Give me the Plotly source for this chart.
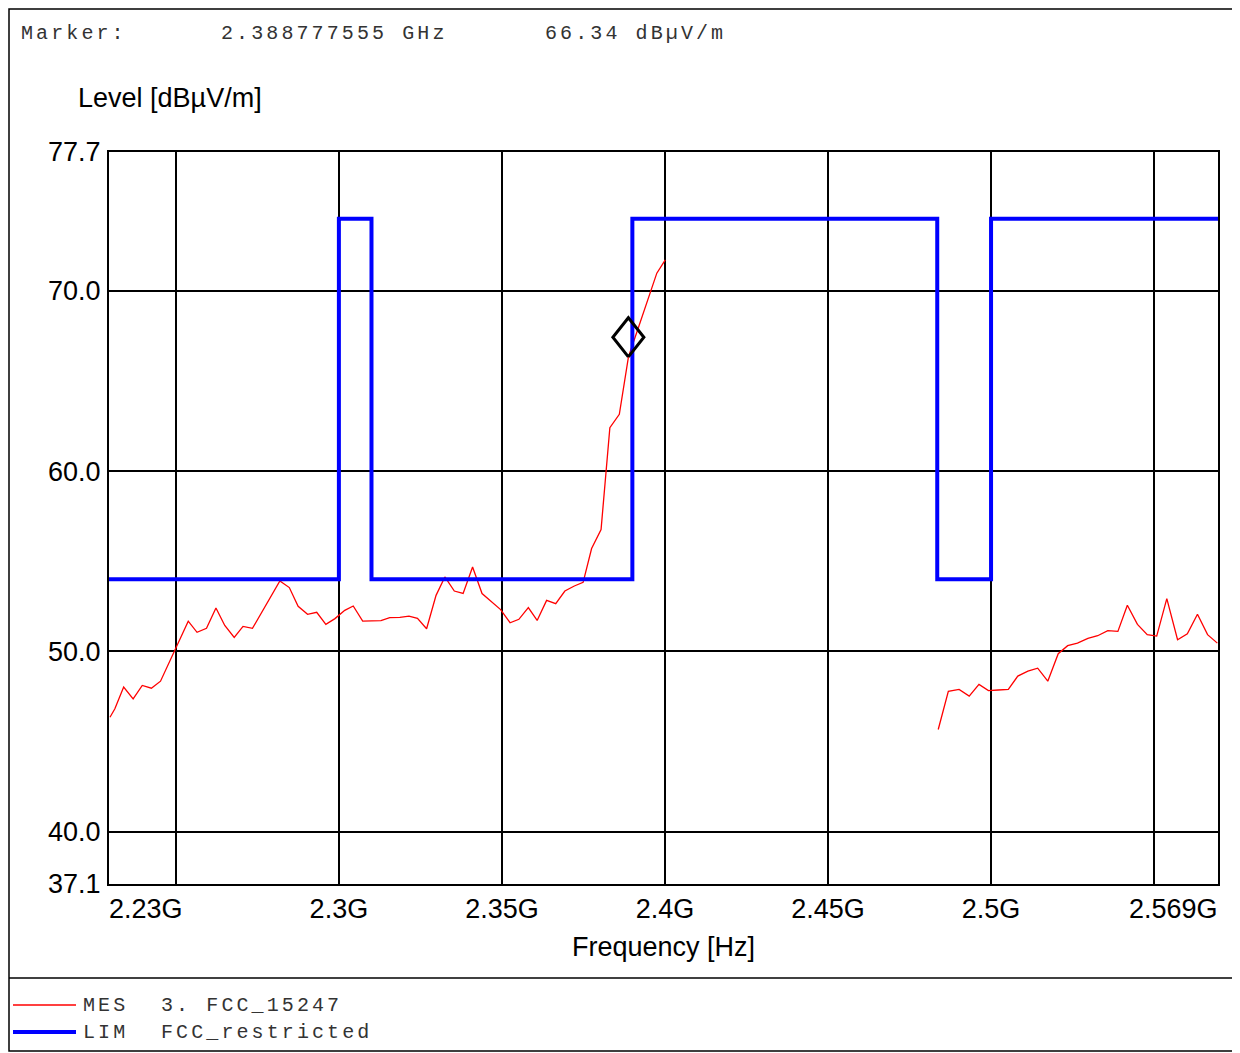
import plotly.graph_objects as go

# sweep / axis data
FREQ_START = 2.2295
FREQ_STOP = 2.5696
LEVEL_MIN = 37.1
LEVEL_MAX = 77.7

x_tickvals = [2.25, 2.3, 2.35, 2.4, 2.45, 2.5, 2.55]
x_ticktext = ['', '2.3G', '2.35G', '2.4G', '2.45G', '2.5G', '']
x_edge_labels = ['2.23G', '2.569G']
y_tickvals = [37.1, 40.0, 50.0, 60.0, 70.0, 77.7]
y_ticktext = ['37.1', '40.0', '50.0', '60.0', '70.0', '77.7']

# MES 3. FCC_15247 (two sweeps, gap over 2.4 - 2.4835 GHz)
mes_freq_1 = [2.2298, 2.2313, 2.2340, 2.2369, 2.2397, 2.2425, 2.2453, 2.2482, 2.2509, 2.2538,
              2.2565, 2.2594, 2.2623, 2.2650, 2.2679, 2.2706, 2.2735, 2.2763, 2.2791, 2.2819,
              2.2848, 2.2875, 2.2904, 2.2932, 2.2960, 2.2988, 2.3018, 2.3044, 2.3073, 2.3101,
              2.3129, 2.3156, 2.3187, 2.3215, 2.3241, 2.3269, 2.3298, 2.3325, 2.3354, 2.3381,
              2.3410, 2.3439, 2.3468, 2.3496, 2.3525, 2.3552, 2.3581, 2.3608, 2.3637, 2.3665,
              2.3693, 2.3722, 2.3749, 2.3775, 2.3804, 2.3831, 2.3860, 2.3888, 2.3916, 2.3944,
              2.3975, 2.4001]
mes_level_1 = [46.35, 46.82, 48.02, 47.37, 48.11, 47.96, 48.35, 49.46, 50.57, 51.68,
               51.06, 51.28, 52.41, 51.44, 50.78, 51.39, 51.28, 52.16, 53.03, 53.91,
               53.54, 52.50, 52.06, 52.17, 51.50, 51.82, 52.28, 52.52, 51.68, 51.69,
               51.71, 51.87, 51.89, 51.96, 51.83, 51.26, 53.11, 54.13, 53.35, 53.22,
               54.68, 53.21, 52.78, 52.32, 51.59, 51.78, 52.43, 51.72, 52.83, 52.65,
               53.35, 53.63, 53.83, 55.71, 56.76, 62.41, 63.15, 66.34, 67.83, 69.32,
               70.98, 71.72]
mes_freq_2 = [2.4838, 2.4869, 2.4902, 2.4933, 2.4963, 2.4992, 2.5022, 2.5053, 2.5082, 2.5113,
              2.5143, 2.5174, 2.5206, 2.5235, 2.5265, 2.5297, 2.5327, 2.5358, 2.5389, 2.5418,
              2.5449, 2.5479, 2.5508, 2.5539, 2.5572, 2.5602, 2.5633, 2.5664, 2.5694]
mes_level_2 = [45.67, 47.79, 47.89, 47.52, 48.17, 47.83, 47.86, 47.89, 48.63, 48.91,
               49.07, 48.35, 49.87, 50.32, 50.46, 50.72, 50.87, 51.15, 51.11, 52.56,
               51.50, 50.93, 50.85, 52.93, 50.65, 50.98, 52.06, 50.93, 50.46]

# LIM FCC_restricted (step line, 'hv')
lim_freq = [2.2295, 2.3, 2.31, 2.39, 2.4835, 2.5, 2.5696]
lim_level = [54, 74, 54, 74, 54, 74, 74]

marker_freq = 2.388777555
marker_level = 66.34

# page has an 8px body margin, so the figure is drawn 8px smaller
OFF = 8
W, H = 1240 - OFF, 1053 - OFF
# plot area in page pixels
L, R, T, B = 109, 1218, 152, 884


def px_x(p):
    return (p - L) / (R - L)


def px_y(p):
    return (B - p) / (B - T)


fig = go.Figure()

fig.add_trace(go.Scatter(
    x=mes_freq_1 + [None] + mes_freq_2,
    y=mes_level_1 + [None] + mes_level_2,
    mode='lines', line=dict(color='#ff0000', width=1.3),
    connectgaps=False, name='MES'))

fig.add_trace(go.Scatter(
    x=lim_freq, y=lim_level, mode='lines',
    line=dict(color='#0000ff', width=4, shape='hv'), name='LIM'))

# marker diamond, bottom tip sitting on the marker point
dx = 15.5 / 3260
dh = 19.5 / 18
fig.add_trace(go.Scatter(
    x=[marker_freq, marker_freq + dx, marker_freq, marker_freq - dx, marker_freq],
    y=[marker_level, marker_level + dh, marker_level + 2 * dh, marker_level + dh, marker_level],
    mode='lines', line=dict(color='black', width=3), name='Marker'))

sans = 'Liberation Sans, Arial, sans-serif'
mono = 'Liberation Mono, Courier New, monospace'

fig.update_layout(
    width=W, height=H,
    margin=dict(l=L - OFF, r=W - (R - OFF), t=T - OFF, b=H - (B - OFF)),
    paper_bgcolor='white', plot_bgcolor='white',
    showlegend=False,
    font=dict(family=sans, size=27, color='black'),
    xaxis=dict(
        range=[FREQ_START, FREQ_STOP],
        tickmode='array', tickvals=x_tickvals, ticktext=x_ticktext,
        showgrid=True, gridcolor='black', gridwidth=1.5,
        showline=True, linecolor='black', linewidth=2, mirror=True,
        ticks='', zeroline=False,
        title=dict(text='Frequency [Hz]', standoff=14, font=dict(size=27)),
    ),
    yaxis=dict(
        range=[LEVEL_MIN, LEVEL_MAX],
        tickmode='array', tickvals=y_tickvals, ticktext=y_ticktext,
        showgrid=True, gridcolor='black', gridwidth=1.5,
        showline=True, linecolor='black', linewidth=2, mirror=True,
        ticks='outside', ticklen=1, tickcolor='rgba(0,0,0,0)',
        zeroline=False,
    ),
)

# edge tick labels aligned with the plot borders
fig.add_annotation(x=FREQ_START, y=0, xref='x', yref='paper', text=x_edge_labels[0],
                   xanchor='left', yanchor='top', yshift=-8, showarrow=False,
                   font=dict(size=27), xshift=-2)
fig.add_annotation(x=FREQ_STOP, y=0, xref='x', yref='paper', text=x_edge_labels[1],
                   xanchor='right', yanchor='top', yshift=-8, showarrow=False,
                   font=dict(size=27), xshift=2)

fig.add_annotation(x=px_x(76), y=px_y(98), xref='paper', yref='paper',
                   text='Level [dBµV/m]', xanchor='left', yanchor='middle',
                   showarrow=False, font=dict(size=27))

ls = 'letter-spacing:3.1px'


def mono_text(x, y, text):
    fig.add_annotation(x=px_x(x), y=px_y(y), xref='paper', yref='paper',
                       text='<span style="%s">%s</span>' % (ls, text),
                       xanchor='left', yanchor='middle', showarrow=False,
                       font=dict(family=mono, size=20, color='#333333'))


mono_text(19, 33, 'Marker:')
mono_text(219, 33, '%.9f GHz' % marker_freq)
mono_text(543, 33, '%.2f dBµV/m' % marker_level)
mono_text(81, 1005, 'MES')
mono_text(159, 1005, '3. FCC_15247')
mono_text(81, 1032, 'LIM')
mono_text(159, 1032, 'FCC_restricted')

# outer frame, legend separator and legend line samples
fig.add_shape(type='rect', xref='paper', yref='paper',
              x0=px_x(OFF + 1), x1=px_x(1238), y0=px_y(OFF + 1), y1=px_y(1051),
              line=dict(color='black', width=1.5))
fig.add_shape(type='line', xref='paper', yref='paper',
              x0=px_x(OFF + 1), x1=px_x(1238), y0=px_y(978), y1=px_y(978),
              line=dict(color='black', width=1.5))
fig.add_shape(type='line', xref='paper', yref='paper',
              x0=px_x(13), x1=px_x(76), y0=px_y(1005), y1=px_y(1005),
              line=dict(color='#ff0000', width=1.3))
fig.add_shape(type='line', xref='paper', yref='paper',
              x0=px_x(13), x1=px_x(76), y0=px_y(1032), y1=px_y(1032),
              line=dict(color='#0000ff', width=4))

fig.write_html('out.html')
